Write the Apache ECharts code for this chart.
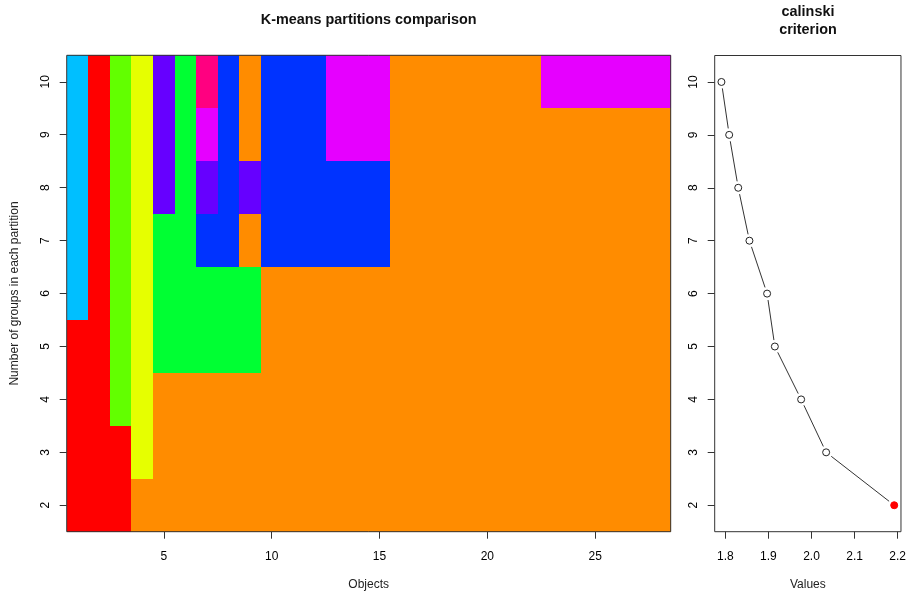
<!DOCTYPE html>
<html>
<head>
<meta charset="utf-8">
<script src="https://cdn.jsdelivr.net/npm/echarts@6/dist/echarts.min.js"></script>
<style>
html,body{margin:0;padding:0;background:#fff;}
#chart{width:909px;height:596px;}
</style>
</head>
<body>
<div id="chart"></div>
<script>
// ---- data ----
const objects = [1,2,3,4,5,6,7,8,9,10,11,12,13,14,15,16,17,18,19,20,21,22,23,24,25,26,27,28];
const groups = [2,3,4,5,6,7,8,9,10];
const objectTicks = [5,10,15,20,25];
const groupTicks = [2,3,4,5,6,7,8,9,10];
const valueTicks = [1.8,1.9,2.0,2.1,2.2];

// group colour code of each object for each partition (K = 2..10)
const partK2  = ['R','R','R','O','O','O','O','O','O','O','O','O','O','O','O','O','O','O','O','O','O','O','O','O','O','O','O','O'];
const partK3  = ['R','R','R','Y','O','O','O','O','O','O','O','O','O','O','O','O','O','O','O','O','O','O','O','O','O','O','O','O'];
const partK4  = ['R','R','G','Y','O','O','O','O','O','O','O','O','O','O','O','O','O','O','O','O','O','O','O','O','O','O','O','O'];
const partK5  = ['R','R','G','Y','N','N','N','N','N','O','O','O','O','O','O','O','O','O','O','O','O','O','O','O','O','O','O','O'];
const partK6  = ['C','R','G','Y','N','N','N','N','N','O','O','O','O','O','O','O','O','O','O','O','O','O','O','O','O','O','O','O'];
const partK7  = ['C','R','G','Y','N','N','B','B','O','B','B','B','B','B','B','O','O','O','O','O','O','O','O','O','O','O','O','O'];
const partK8  = ['C','R','G','Y','P','N','P','B','P','B','B','B','B','B','B','O','O','O','O','O','O','O','O','O','O','O','O','O'];
const partK9  = ['C','R','G','Y','P','N','M','B','O','B','B','B','M','M','M','O','O','O','O','O','O','O','O','O','O','O','O','O'];
const partK10 = ['C','R','G','Y','P','N','K','B','O','B','B','B','M','M','M','O','O','O','O','O','O','O','M','M','M','M','M','M'];
const partitions = [partK2, partK3, partK4, partK5, partK6, partK7, partK8, partK9, partK10];

// calinski criterion value for K = 2..10
const calinski = [2.192, 2.034, 1.976, 1.915, 1.897, 1.856, 1.830, 1.809, 1.791];

// ---- styles ----
const palette = {
  R:'#FF0000', O:'#FF8C00', C:'#00BFFF', G:'#62FF00', Y:'#E6FF00',
  P:'#6600FF', N:'#00FF33', K:'#FF0080', M:'#E600FF', B:'#0033FF'
};
const FONT = '"Liberation Sans", Arial, Helvetica, sans-serif';

const cells = [];
partitions.forEach((part, gi) => {
  part.forEach((code, oi) => {
    cells.push({ value: [objects[oi], groups[gi]], itemStyle: { color: palette[code] } });
  });
});

let best = 0;
calinski.forEach((v, i) => { if (v > calinski[best]) best = i; });
const pointData = calinski.map((v, i) => {
  const p = { value: [v, groups[i]] };
  if (i === best) {
    p.itemStyle = { color: '#FF0000', borderColor: '#FF0000', borderWidth: 1, opacity: 1 };
  }
  return p;
});
const segData = calinski.slice(0, -1).map((v, i) => [v, groups[i]]);

const chart = echarts.init(document.getElementById('chart'), null, { renderer: 'canvas' });

const tickStyle = { color: '#333', width: 1 };
function baseAxis(extra) {
  return Object.assign({
    splitLine: { show: false },
    axisLine: { show: false },
    nameTextStyle: { fontFamily: FONT, fontSize: 12, color: '#222' }
  }, extra);
}

chart.setOption({
  animation: false,
  backgroundColor: '#fff',
  textStyle: { fontFamily: FONT },
  graphic: [
    { type: 'text', x: 368.7, y: 20,
      style: { text: 'K-means partitions comparison', fontFamily: FONT, fontSize: 14.4, fontWeight: 'bold',
               fill: '#111', textAlign: 'center', textVerticalAlign: 'middle' } },
    { type: 'text', x: 808, y: 21,
      style: { text: 'calinski\ncriterion', fontFamily: FONT, fontSize: 14.4, fontWeight: 'bold',
               lineHeight: 18, fill: '#111', textAlign: 'center', textVerticalAlign: 'middle' } }
  ],
  grid: [
    { left: 66.7, top: 55.3, width: 604, height: 476.4, show: true, borderColor: '#333', borderWidth: 1, backgroundColor: 'transparent', containLabel: false, z: 5 },
    { left: 714.7, top: 55.5, width: 186.3, height: 476.2, show: true, borderColor: '#333', borderWidth: 1, backgroundColor: 'transparent', containLabel: false }
  ],
  xAxis: [
    baseAxis({ gridIndex: 0, type: 'value', min: 0.5, max: 28.5,
      name: 'Objects', nameLocation: 'middle', nameGap: 47,
      axisTick: { show: true, length: 7, customValues: objectTicks, lineStyle: tickStyle },
      axisLabel: { customValues: objectTicks, margin: 19, fontSize: 12, color: '#000', fontFamily: FONT } }),
    baseAxis({ gridIndex: 1, type: 'value', min: 1.7754, max: 2.2077,
      name: 'Values', nameLocation: 'middle', nameGap: 47,
      axisTick: { show: true, length: 7, customValues: valueTicks, lineStyle: tickStyle },
      axisLabel: { customValues: valueTicks, margin: 19, fontSize: 12, color: '#000', fontFamily: FONT,
                   formatter: v => Number(v).toFixed(1) } })
  ],
  yAxis: [
    baseAxis({ gridIndex: 0, type: 'value', min: 1.5, max: 10.5,
      name: 'Number of groups in each partition', nameLocation: 'middle', nameGap: 46, nameRotate: 90,
      axisTick: { show: true, length: 7, customValues: groupTicks, lineStyle: tickStyle },
      axisLabel: { customValues: groupTicks, margin: 15, rotate: 90, fontSize: 12, color: '#000', fontFamily: FONT } }),
    baseAxis({ gridIndex: 1, type: 'value', min: 1.5, max: 10.5,
      axisTick: { show: true, length: 7, customValues: groupTicks, lineStyle: tickStyle },
      axisLabel: { customValues: groupTicks, margin: 15, rotate: 90, fontSize: 12, color: '#000', fontFamily: FONT } })
  ],
  series: [
    {
      type: 'custom', xAxisIndex: 0, yAxisIndex: 0, z: 1,
      data: cells,
      renderItem: function (params, api) {
        const x = api.value(0), y = api.value(1);
        const p1 = api.coord([x - 0.5, y + 0.5]);
        const p2 = api.coord([x + 0.5, y - 0.5]);
        const x0 = Math.round(p1[0]), y0 = Math.round(p1[1]);
        const x1 = Math.round(p2[0]), y1 = Math.round(p2[1]);
        const c = api.visual('color');
        return {
          type: 'rect',
          shape: { x: x0, y: y0, width: x1 - x0, height: y1 - y0 },
          style: { fill: c }
        };
      }
    },
    {
      // connecting segments with gaps around the points (R type = "b")
      type: 'custom', xAxisIndex: 1, yAxisIndex: 1, z: 2,
      data: segData,
      renderItem: function (params, api) {
        const i = params.dataIndex;
        const a = api.coord([api.value(0), api.value(1)]);
        const b = api.coord([calinski[i + 1], groups[i + 1]]);
        const dx = b[0] - a[0], dy = b[1] - a[1];
        const len = Math.sqrt(dx * dx + dy * dy);
        const gap = 6.5;
        if (len <= 2 * gap) return null;
        const ux = dx / len, uy = dy / len;
        return {
          type: 'line',
          shape: { x1: a[0] + ux * gap, y1: a[1] + uy * gap, x2: b[0] - ux * gap, y2: b[1] - uy * gap },
          style: { stroke: '#333', lineWidth: 1 }
        };
      }
    },
    {
      type: 'scatter', xAxisIndex: 1, yAxisIndex: 1, z: 3,
      data: pointData,
      symbol: 'circle', symbolSize: 7,
      itemStyle: { color: '#fff', borderColor: '#222', borderWidth: 1, opacity: 1 }
    }
  ]
});
</script>
</body>
</html>
